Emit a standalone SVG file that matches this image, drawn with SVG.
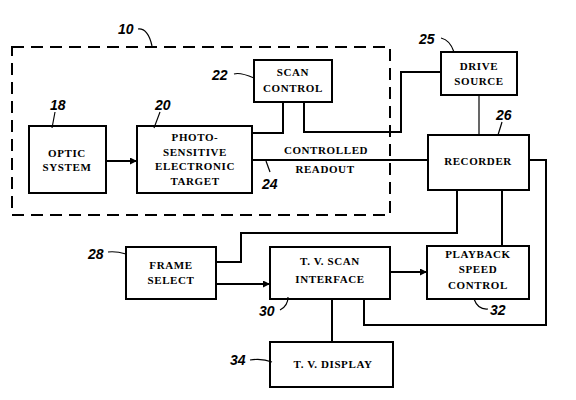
<svg xmlns="http://www.w3.org/2000/svg" width="576" height="400" viewBox="0 0 576 400">
<defs>
<marker id="ah" viewBox="0 0 10 10" refX="10" refY="5" markerWidth="10" markerHeight="7" markerUnits="userSpaceOnUse" orient="auto"><path d="M0,0 L10,5 L0,10 z" fill="#000"/></marker>
<style>
.box{fill:#fff;stroke:#000;stroke-width:2}
.ln{fill:none;stroke:#000;stroke-width:2}
.thin{fill:none;stroke:#000;stroke-width:1.2}
.t{font-family:"Liberation Serif",serif;font-size:11px;font-weight:bold;letter-spacing:0.6px;text-anchor:middle;fill:#000}
.n{font-family:"Liberation Sans",sans-serif;font-size:14px;font-weight:bold;font-style:italic;fill:#000}
</style>
</defs>
<rect width="576" height="400" fill="#fff"/>
<g id="boundary10">
<rect x="12" y="47" width="378" height="168" fill="none" stroke="#000" stroke-width="2" stroke-dasharray="12,7"/>
<text class="n" x="118" y="34">10</text>
<path class="thin" d="M138,29 Q148,28 152,46"/>
</g>
<g id="connectors">
<line class="ln" x1="106" y1="161" x2="137" y2="161" marker-end="url(#ah)"/>
<polyline class="ln" points="252,133 283,133 283,102"/>
<polyline class="ln" points="304,102 304,132 401,132 401,72 441,72"/>
<line class="thin" x1="479" y1="95" x2="479" y2="135"/>
<line class="ln" x1="252" y1="160" x2="428" y2="160"/>
<polyline class="ln" points="529,160 546,160 546,325 364,325 364,299"/>
<polyline class="ln" points="457,190 457,233 241,233 241,262 216,262"/>
<line class="ln" x1="502" y1="190" x2="502" y2="246"/>
<line class="ln" x1="216" y1="284" x2="270" y2="284" marker-end="url(#ah)"/>
<line class="ln" x1="390" y1="272" x2="427" y2="272" marker-end="url(#ah)"/>
<line class="ln" x1="332" y1="299" x2="332" y2="342"/>
<text class="t" x="326" y="154">CONTROLLED</text>
<text class="t" x="325" y="173">READOUT</text>
<path class="thin" d="M266,161 L270,172"/>
<text class="n" x="262" y="189">24</text>
</g>
<g id="optic">
<rect class="box" x="29" y="126" width="77" height="67"/>
<text class="t" x="67" y="157">OPTIC</text>
<text class="t" x="67" y="171">SYSTEM</text>
<text class="n" x="50" y="110">18</text>
<path class="thin" d="M55,112 L52,128"/>
</g>
<g id="target">
<rect class="box" x="137" y="126" width="115" height="67"/>
<text class="t" x="195" y="141">PHOTO-</text>
<text class="t" x="195" y="156">SENSITIVE</text>
<text class="t" x="195" y="170">ELECTRONIC</text>
<text class="t" x="195" y="185">TARGET</text>
<text class="n" x="155" y="110">20</text>
<path class="thin" d="M160,112 L154,128"/>
</g>
<g id="scan">
<rect class="box" x="254" y="60" width="78" height="42"/>
<text class="t" x="293" y="76">SCAN</text>
<text class="t" x="293" y="92">CONTROL</text>
<text class="n" x="212" y="80">22</text>
<path class="thin" d="M234,74 Q240,72 254,78"/>
</g>
<g id="drive">
<rect class="box" x="441" y="52" width="76" height="43"/>
<text class="t" x="479" y="70">DRIVE</text>
<text class="t" x="479" y="85">SOURCE</text>
<text class="n" x="419" y="44">25</text>
<path class="thin" d="M441,38 Q450,40 454,52"/>
</g>
<g id="recorder">
<rect class="box" x="428" y="135" width="101" height="55"/>
<text class="t" x="478" y="165">RECORDER</text>
<text class="n" x="496" y="120">26</text>
<path class="thin" d="M502,122 L498,135"/>
</g>
<g id="frame">
<rect class="box" x="126" y="247" width="90" height="52"/>
<text class="t" x="171" y="269">FRAME</text>
<text class="t" x="171" y="284">SELECT</text>
<text class="n" x="88" y="259">28</text>
<path class="thin" d="M108,252 Q116,251 126,254"/>
</g>
<g id="tvscan">
<rect class="box" x="270" y="247" width="120" height="52"/>
<text class="t" x="330" y="265">T. V. SCAN</text>
<text class="t" x="330" y="283">INTERFACE</text>
<text class="n" x="259" y="316">30</text>
<path class="thin" d="M280,310 Q288,306 288,297"/>
</g>
<g id="playback">
<rect class="box" x="427" y="246" width="102" height="53"/>
<text class="t" x="478" y="258">PLAYBACK</text>
<text class="t" x="478" y="273">SPEED</text>
<text class="t" x="478" y="289">CONTROL</text>
<text class="n" x="490" y="315">32</text>
<path class="thin" d="M488,309 Q478,310 474,299"/>
</g>
<g id="display">
<rect class="box" x="270" y="342" width="123" height="45"/>
<text class="t" x="333" y="368">T. V. DISPLAY</text>
<text class="n" x="230" y="365">34</text>
<path class="thin" d="M250,360 Q262,358 272,362"/>
</g>
</svg>
